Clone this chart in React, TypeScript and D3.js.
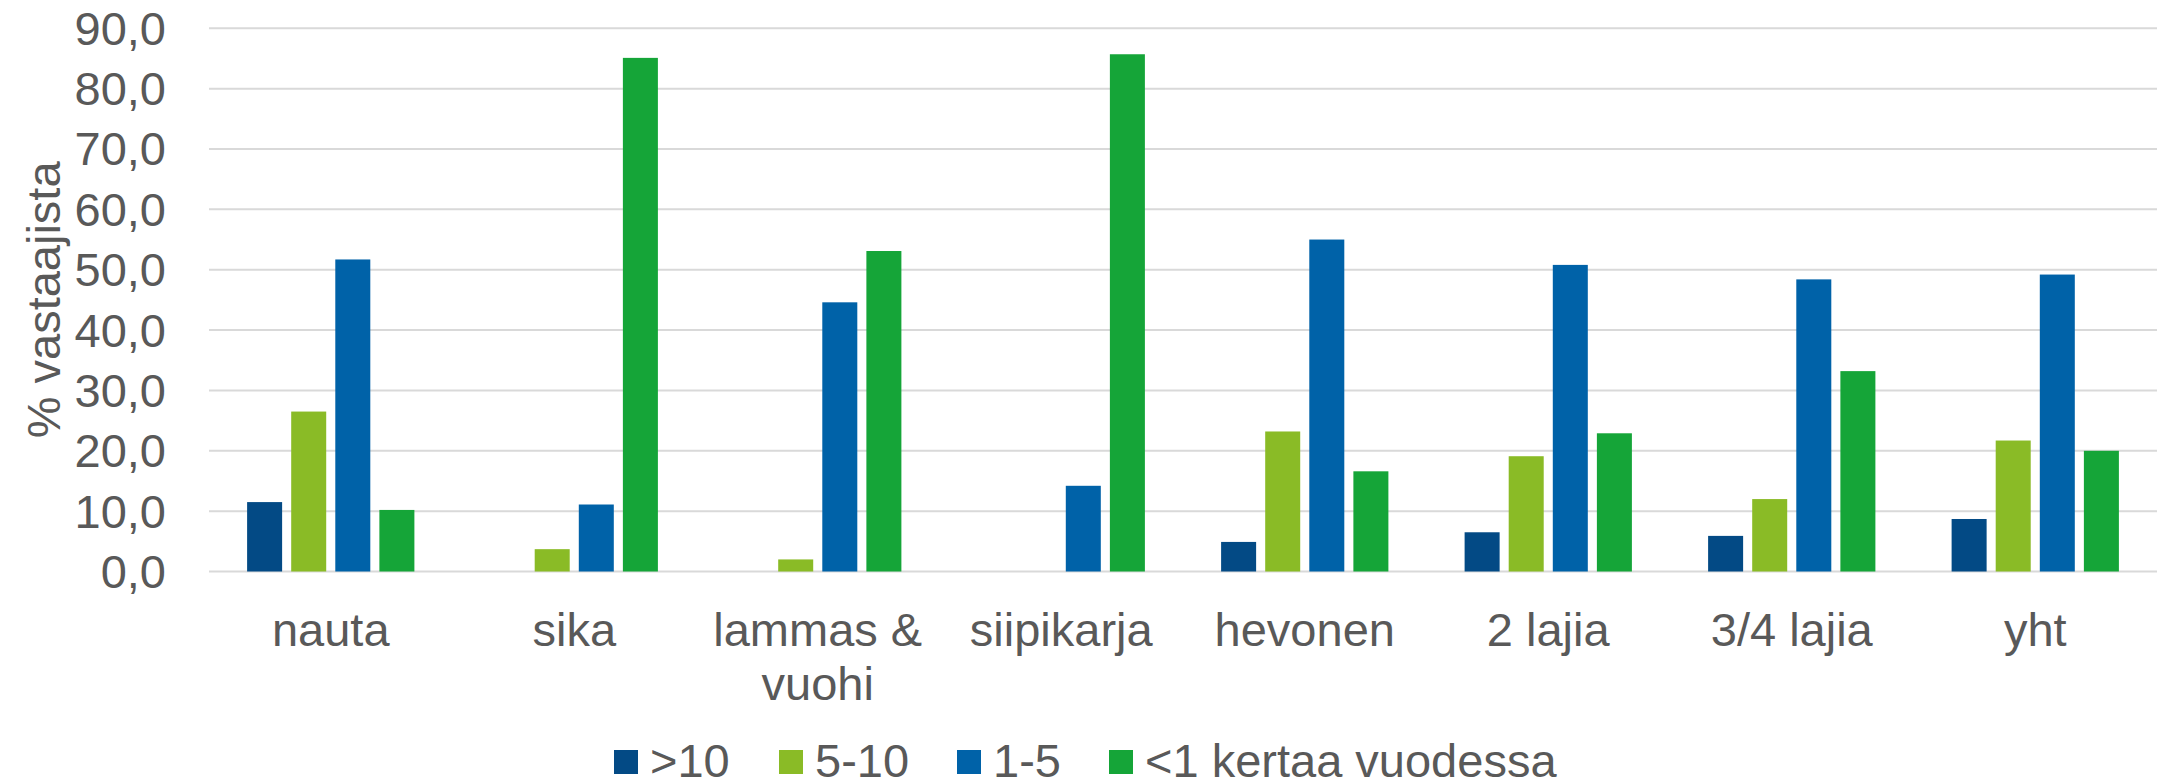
import React from "react";
import * as d3 from "d3";

const categories: string[][] = [
  ["nauta"],
  ["sika"],
  ["lammas &", "vuohi"],
  ["siipikarja"],
  ["hevonen"],
  ["2 lajia"],
  ["3/4 lajia"],
  ["yht"],
];
const seriesNames = [">10", "5-10", "1-5", "<1 kertaa vuodessa"];
const seriesColors = ["#034A85", "#8ABB26", "#0062A8", "#15A538"];
const over10 = [11.5, 0, 0, 0, 4.9, 6.5, 5.9, 8.7];
const s5to10 = [26.5, 3.7, 2.0, 0, 23.2, 19.1, 12.0, 21.7];
const s1to5 = [51.7, 11.1, 44.6, 14.2, 55.0, 50.8, 48.4, 49.2];
const under1 = [10.2, 85.1, 53.1, 85.7, 16.6, 22.9, 33.2, 20.0];
const seriesValues = [over10, s5to10, s1to5, under1];
const yTicks = [0, 10, 20, 30, 40, 50, 60, 70, 80, 90];
const yTitle = "% vastaajista";

const W = 2158;
const H = 781;
const plotLeft = 209;
const plotRight = 2157;
const plotTop = 28.3;
const plotBottom = 571.5;
const textColor = "#595959";
const fontFamily = "'Liberation Sans', Arial, sans-serif";
const fs = 47;

// legend layout (x of swatches)
const legendSwatchX = [614, 779, 957, 1109];

export default function App() {
  const idx = categories.map((_, i) => String(i));
  const x = d3
    .scaleBand<string>()
    .domain(idx)
    .range([plotLeft, plotRight])
    .paddingInner(0.313)
    .paddingOuter(0.1565);
  const xs = d3
    .scaleBand<string>()
    .domain(seriesNames)
    .range([0, x.bandwidth()])
    .paddingInner(0.206)
    .paddingOuter(0);
  const y = d3.scaleLinear().domain([0, 90]).range([plotBottom, plotTop]);
  const fmt = (v: number) => v.toFixed(1).replace(".", ",");
  const step = x.step();

  return (
    <svg
      width={W}
      height={H}
      style={{ position: "absolute", left: 0, top: 0, background: "#fff" }}
      fontFamily={fontFamily}
    >
      <rect x={0} y={0} width={W} height={H} fill="#fff" />
      {yTicks.map((t) => (
        <g key={t}>
          <line
            x1={plotLeft}
            x2={plotRight}
            y1={y(t)}
            y2={y(t)}
            stroke="#D9D9D9"
            strokeWidth={2}
          />
          <text
            x={166}
            y={y(t)}
            dy="0.35em"
            textAnchor="end"
            fontSize={fs}
            fill={textColor}
          >
            {fmt(t)}
          </text>
        </g>
      ))}
      <text
        transform={`translate(60,${(plotTop + plotBottom) / 2}) rotate(-90)`}
        textAnchor="middle"
        fontSize={fs}
        fill={textColor}
      >
        {yTitle}
      </text>
      {seriesValues.map((vals, si) =>
        vals.map((v, ci) =>
          v > 0 ? (
            <rect
              key={`${si}-${ci}`}
              x={(x(String(ci)) as number) + (xs(seriesNames[si]) as number)}
              y={y(v)}
              width={xs.bandwidth()}
              height={y(0) - y(v)}
              fill={seriesColors[si]}
            />
          ) : null
        )
      )}
      {categories.map((lines, ci) => {
        const cx = plotLeft + step * ci + step / 2;
        return (
          <text
            key={ci}
            x={cx}
            y={646}
            textAnchor="middle"
            fontSize={fs}
            fill={textColor}
          >
            {lines.map((l, li) => (
              <tspan key={li} x={cx} dy={li === 0 ? 0 : 54}>
                {l}
              </tspan>
            ))}
          </text>
        );
      })}
      {seriesNames.map((n, si) => (
        <g key={n}>
          <rect
            x={legendSwatchX[si]}
            y={750}
            width={24}
            height={24}
            fill={seriesColors[si]}
          />
          <text
            x={legendSwatchX[si] + 36}
            y={777}
            fontSize={fs}
            fill={textColor}
          >
            {n}
          </text>
        </g>
      ))}
    </svg>
  );
}
